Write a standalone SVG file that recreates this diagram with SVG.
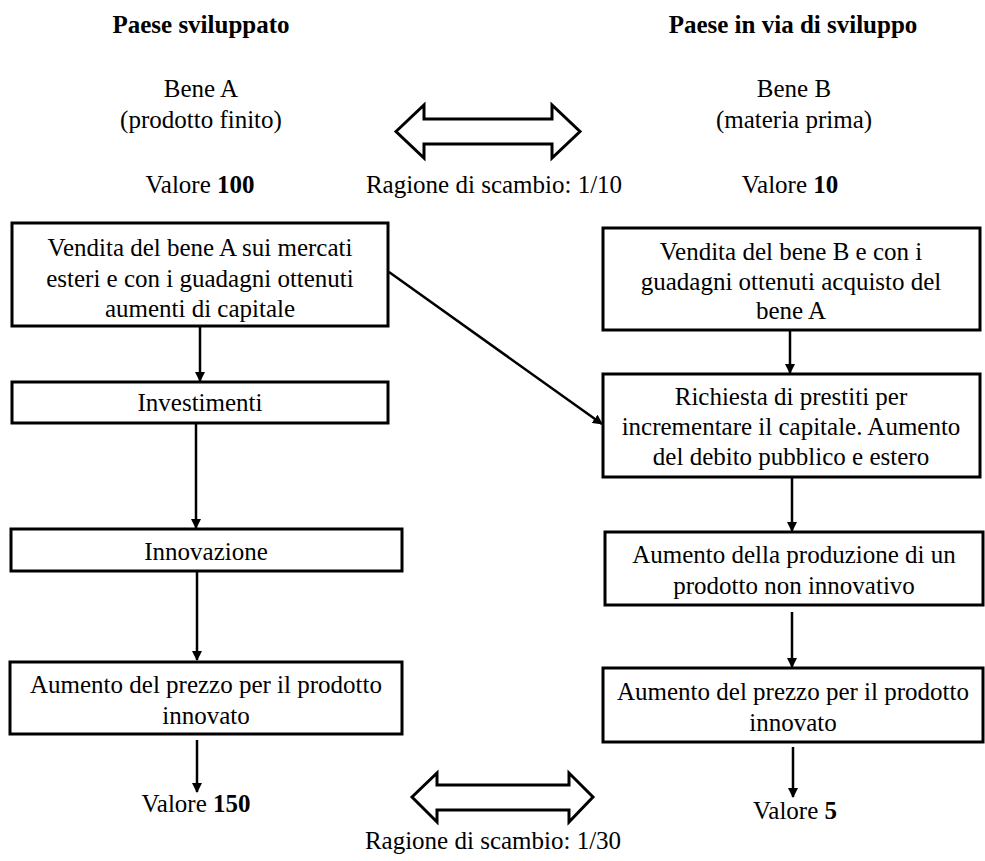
<svg xmlns="http://www.w3.org/2000/svg" width="985" height="861" viewBox="0 0 985 861">
<style>
text{font-family:"Liberation Serif","Times New Roman",serif;font-size:25px;fill:#000;text-anchor:middle}
.b{font-weight:bold}
.box{fill:#fff;stroke:#000;stroke-width:3}
.con{stroke:#000;stroke-width:2.5;fill:none;marker-end:url(#ah)}
.dbl{fill:#fff;stroke:#000;stroke-width:3;stroke-linejoin:miter}
</style>
<defs>
<marker id="ah" viewBox="0 0 10 10" refX="9" refY="5" markerWidth="4" markerHeight="4" orient="auto" markerUnits="strokeWidth">
<path d="M0,0 L10,5 L0,10 z" fill="#000"/>
</marker>
</defs>
<rect width="985" height="861" fill="#fff"/>

<g id="headers">
<text class="b" x="201" y="33">Paese sviluppato</text>
<text class="b" x="793" y="33">Paese in via di sviluppo</text>
</g>

<g id="beneA">
<text x="201" y="97">Bene A</text>
<text x="201" y="128">(prodotto finito)</text>
<text x="200" y="193">Valore <tspan class="b">100</tspan></text>
</g>

<g id="beneB">
<text x="794" y="97">Bene B</text>
<text x="794" y="128">(materia prima)</text>
<text x="790" y="193">Valore <tspan class="b">10</tspan></text>
</g>

<g id="scambio1">
<path class="dbl" d="M396,131.5 L424,105 L424,119 L552,119 L552,105 L580,131.5 L552,158 L552,144 L424,144 L424,158 Z"/>
<text x="494" y="193">Ragione di scambio: 1/10</text>
</g>

<g id="L1">
<rect class="box" x="12" y="223" width="376" height="103"/>
<text x="200" y="256">Vendita del bene A sui mercati</text>
<text x="200" y="287">esteri e con i guadagni ottenuti</text>
<text x="200" y="317">aumenti di capitale</text>
</g>

<g id="L2">
<rect class="box" x="12" y="382" width="376" height="41"/>
<text x="200" y="411">Investimenti</text>
</g>

<g id="L3">
<rect class="box" x="11" y="529" width="391" height="42"/>
<text x="206" y="560">Innovazione</text>
</g>

<g id="L4">
<rect class="box" x="10" y="662" width="392" height="72"/>
<text x="206" y="693">Aumento del prezzo per il prodotto</text>
<text x="206" y="724">innovato</text>
</g>

<g id="L5">
<text x="196" y="812">Valore <tspan class="b">150</tspan></text>
</g>

<g id="R1">
<rect class="box" x="603" y="228" width="377" height="102"/>
<text x="791" y="260">Vendita del bene B e con i</text>
<text x="791" y="290">guadagni ottenuti acquisto del</text>
<text x="791" y="319">bene A</text>
</g>

<g id="R2">
<rect class="box" x="603" y="374" width="377" height="103"/>
<text x="791" y="405">Richiesta di prestiti per</text>
<text x="791" y="435">incrementare il capitale. Aumento</text>
<text x="791" y="465">del debito pubblico e estero</text>
</g>

<g id="R3">
<rect class="box" x="605" y="532" width="378" height="73"/>
<text x="794" y="563">Aumento della produzione di un</text>
<text x="794" y="594">prodotto non innovativo</text>
</g>

<g id="R4">
<rect class="box" x="603" y="668" width="380" height="74"/>
<text x="793" y="700">Aumento del prezzo per il prodotto</text>
<text x="793" y="731">innovato</text>
</g>

<g id="R5">
<text x="795" y="819">Valore <tspan class="b">5</tspan></text>
</g>

<g id="scambio2">
<path class="dbl" d="M412,797 L437,773 L437,785 L569,785 L569,773 L593,797 L569,822 L569,810 L437,810 L437,822 Z"/>
<text x="493" y="849">Ragione di scambio: 1/30</text>
</g>

<g id="connectors">
<line class="con" x1="200" y1="327" x2="200" y2="381"/>
<line class="con" x1="196" y1="424" x2="196" y2="528"/>
<line class="con" x1="197" y1="572" x2="197" y2="660"/>
<line class="con" x1="197" y1="740" x2="197" y2="792"/>
<line class="con" x1="389" y1="272" x2="602" y2="424"/>
<line class="con" x1="790" y1="331" x2="790" y2="373"/>
<line class="con" x1="792" y1="478" x2="792" y2="531"/>
<line class="con" x1="792" y1="612" x2="792" y2="667"/>
<line class="con" x1="793" y1="747" x2="793" y2="797"/>
</g>
</svg>
